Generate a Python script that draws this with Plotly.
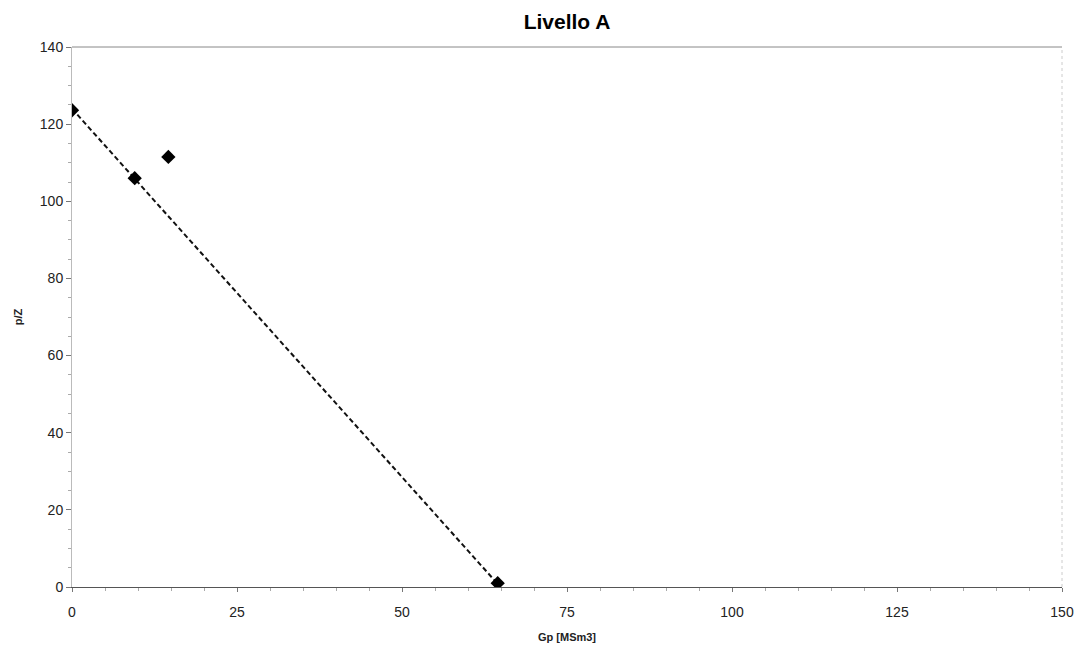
import plotly.graph_objects as go

gp = [0, 9.5, 14.6, 64.5]
pz = [123.6, 106.0, 111.5, 1.0]
trend_x = [0, 64.5]
trend_y = [124.0, 0.8]

fig = go.Figure()
fig.add_trace(go.Scatter(x=trend_x, y=trend_y, mode="lines",
                         line=dict(color="#111", width=2, dash="5px,3px"),
                         showlegend=False, hoverinfo="skip"))
fig.add_trace(go.Scatter(x=gp, y=pz, mode="markers",
                         marker=dict(symbol="diamond", size=11, color="black"),
                         showlegend=False))

fig.update_layout(
    width=1074, height=643,
    paper_bgcolor="white", plot_bgcolor="white",
    margin=dict(l=64, r=20, t=39, b=64),
    title=dict(text="<b>Livello A</b>", x=0.5, xref="paper", y=0.978, yanchor="middle",
               font=dict(family="Liberation Sans, Arial", size=21, color="black")),
    font=dict(family="Liberation Sans, Arial", color="#222"),
    showlegend=False,
)
fig.update_xaxes(range=[0, 150], tickvals=[0, 25, 50, 75, 100, 125, 150], automargin=False,
                 showgrid=False, zeroline=False, showline=True, linecolor="#555", linewidth=1,
                 ticks="outside", ticklen=4, tickcolor="#777", ticklabelstandoff=8,
                 minor=dict(dtick=5, ticks="outside", ticklen=3, tickcolor="#aaa"),
                 tickfont=dict(size=14, color="#222"),
                 title=dict(text="<b>Gp [MSm3]</b>", font=dict(size=11, color="#222"), standoff=14))
fig.update_yaxes(range=[0, 140], tickvals=[0, 20, 40, 60, 80, 100, 120, 140], automargin=False,
                 showgrid=False, zeroline=False, showline=True, linecolor="#bbb", linewidth=1,
                 ticks="outside", ticklen=5, tickcolor="#777",
                 minor=dict(dtick=5, ticks="outside", ticklen=3, tickcolor="#aaa"),
                 tickfont=dict(size=14, color="#222"),
                 title=dict(text="<b>p/Z</b>", font=dict(size=11, color="#222"), standoff=14))
# frame: top and right
fig.add_shape(type="line", xref="paper", yref="paper", x0=0, x1=1, y0=1, y1=1,
              line=dict(color="#888", width=1))
fig.add_shape(type="line", xref="paper", yref="paper", x0=1, x1=1, y0=0, y1=1,
              line=dict(color="#ccc", width=1, dash="dot"))

fig.write_html("out.html")
